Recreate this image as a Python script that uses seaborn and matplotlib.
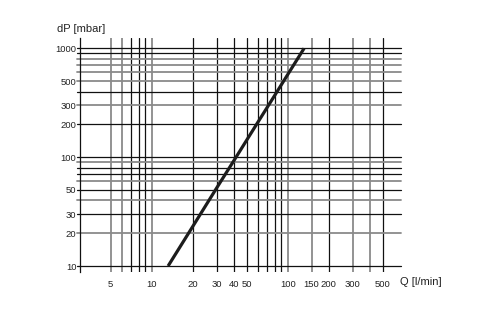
import matplotlib
matplotlib.use("Agg")
import matplotlib.pyplot as plt
import seaborn as sns
import pandas as pd
from matplotlib.ticker import FixedLocator, FixedFormatter, NullLocator

sns.set_style("white")
plt.rcParams['font.family'] = ['Liberation Sans', 'DejaVu Sans']

# Curve data
flow_q = [13.2, 20, 30, 40, 60, 80, 100, 132]
dp_mbar = [10, 23, 52, 92, 207, 367, 574, 1000]

# Grid lines
v_lines = [5, 6, 7, 8, 9, 10, 20, 30, 40, 50, 60, 70, 80, 90, 100, 150, 200, 300, 400, 500]
v_dark = [0, 0, 1, 1, 1, 0, 1, 1, 1, 1, 1, 1, 1, 1, 0, 0, 1, 0, 0, 1]
h_lines = [10, 20, 30, 40, 50, 60, 70, 80, 90, 100, 200, 300, 400, 500, 600, 700, 800, 900, 1000]
h_dark = [1, 0, 1, 0, 1, 0, 1, 1, 0, 1, 1, 0, 1, 0, 0, 0, 0, 1, 1]

x_ticks = [5, 10, 20, 30, 40, 50, 100, 150, 200, 300, 500]
x_labels = ["5", "10", "20", "30", "40", "50", "100", "150", "200", "300", "500"]
y_ticks = [10, 20, 30, 50, 100, 200, 300, 500, 1000]
y_labels = ["10", "20", "30", "50", "100", "200", "300", "500", "1000"]

df = pd.DataFrame({"Q": flow_q, "dP": dp_mbar})

fig = plt.figure(figsize=(5.0, 3.12), dpi=100)
ax = fig.add_axes([0.16, 0.1282, 0.642, 0.7498])
ax.set_xscale("log")
ax.set_yscale("log")
ax.set_xlim(2.97, 681)
ax.set_ylim(8.81, 1243)

BLACK = "#111111"
GRAY = "#8a8a8a"
for v, d in zip(v_lines, v_dark):
    ax.axvline(v, color=BLACK if d else GRAY, lw=0.9 if d else 1.3, zorder=1)
for h, d in zip(h_lines, h_dark):
    ax.axhline(h, xmin=-0.008, xmax=1.0, color=BLACK if d else GRAY,
               lw=0.9 if d else 1.3, zorder=1, clip_on=False)

sns.lineplot(data=df, x="Q", y="dP", ax=ax, color="#1c1c1c", lw=2.3,
             zorder=3, solid_capstyle="butt")

ax.xaxis.set_major_locator(FixedLocator(x_ticks))
ax.xaxis.set_major_formatter(FixedFormatter(x_labels))
ax.xaxis.set_minor_locator(NullLocator())
ax.yaxis.set_major_locator(FixedLocator(y_ticks))
ax.yaxis.set_major_formatter(FixedFormatter(y_labels))
ax.yaxis.set_minor_locator(NullLocator())
ax.tick_params(axis="x", length=0, pad=5.5, labelsize=6.8, colors="#222222")
ax.tick_params(axis="y", length=0, pad=2.5, labelsize=6.8, colors="#222222")
ax.set_xlabel("")
ax.set_ylabel("")

for s in ["top", "right", "bottom"]:
    ax.spines[s].set_visible(False)
ax.spines["left"].set_color(BLACK)
ax.spines["left"].set_linewidth(0.9)

fig.text(57 / 500, 1 - 29 / 312, "dP [mbar]", fontsize=8, ha="left", va="center", color="#222222")
fig.text(400 / 500, 1 - 282 / 312, "Q [l/min]", fontsize=8, ha="left", va="center", color="#222222")

fig.savefig("out.png", dpi=100)
